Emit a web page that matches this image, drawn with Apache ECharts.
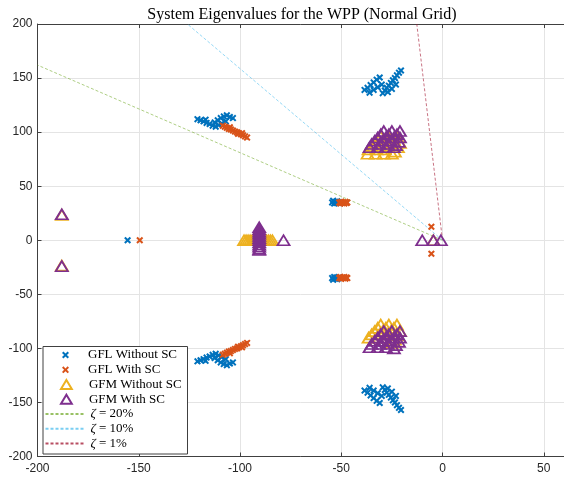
<!DOCTYPE html>
<html>
<head>
<meta charset="utf-8">
<script src="https://cdn.jsdelivr.net/npm/echarts@6/dist/echarts.min.js"></script>
<style>
  html, body { margin: 0; padding: 0; background: #fff; }
  #chart { width: 564px; height: 481px; }
</style>
</head>
<body>
<div id="chart"></div>
<script>
// Eigenvalue locations [real part, imaginary part]
const gflWithoutSc = [
  [-121, 112], [-119.5, 111], [-118, 110], [-116.5, 108.5], [-115, 107.5], [-113.5, 106], [-112, 105],
  [-110.5, 106.5], [-109, 108], [-111, 111], [-109.5, 113], [-108, 114.5], [-106.5, 115.5], [-105, 114],
  [-103.5, 113], [-107, 110], [-112.5, 109], [-117, 111.5],
  [-121, -112], [-119.5, -111], [-118, -110], [-116.5, -108.5], [-115, -107.5], [-113.5, -106], [-112, -105],
  [-110.5, -106.5], [-109, -108], [-111, -111], [-109.5, -113], [-108, -114.5], [-106.5, -115.5], [-105, -114],
  [-103.5, -113], [-107, -110], [-112.5, -109], [-117, -111.5],
  [-38.5, 139], [-37, 141], [-35.5, 143.5], [-34, 146], [-32.5, 148.5], [-31, 150.5], [-36, 136.5], [-34, 139],
  [-32, 141.5], [-30, 144], [-29.5, 136], [-28.5, 138.5], [-27.5, 141], [-26.5, 143], [-25.5, 145.5],
  [-24.5, 148], [-23.5, 150], [-22.5, 152.5], [-21.5, 155], [-20.5, 157], [-27, 137], [-25, 140], [-23, 144],
  [-38.5, -139], [-37, -141], [-35.5, -143.5], [-34, -146], [-32.5, -148.5], [-31, -150.5], [-36, -136.5], [-34, -139],
  [-32, -141.5], [-30, -144], [-29.5, -136], [-28.5, -138.5], [-27.5, -141], [-26.5, -143], [-25.5, -145.5],
  [-24.5, -148], [-23.5, -150], [-22.5, -152.5], [-21.5, -155], [-20.5, -157], [-27, -137], [-25, -140], [-23, -144],
  [-54.5, 35], [-54, 36.5], [-53.5, 34], [-53, 35.5], [-52.5, 34.5], [-52, 36], [-51.5, 35], [-51, 34.5],
  [-54.5, -35], [-54, -36.5], [-53.5, -34], [-53, -35.5], [-52.5, -34.5], [-52, -36], [-51.5, -35], [-51, -34.5],
  [-155.5, 0]
];

const gflWithSc = [
  [-108.5, 106], [-107.5, 105], [-106.5, 104], [-105.5, 103], [-104.5, 102.5], [-103.5, 101.5], [-102.5, 100.5],
  [-101.5, 100], [-100.5, 99], [-99.5, 98], [-98.5, 97], [-97.5, 96], [-96.5, 95], [-105, 104.5], [-101, 98.5], [-99, 99],
  [-108.5, -106], [-107.5, -105], [-106.5, -104], [-105.5, -103], [-104.5, -102.5], [-103.5, -101.5], [-102.5, -100.5],
  [-101.5, -100], [-100.5, -99], [-99.5, -98], [-98.5, -97], [-97.5, -96], [-96.5, -95], [-105, -104.5], [-101, -98.5], [-99, -99],
  [-51, 35], [-50.5, 34], [-50, 35.5], [-49.5, 34.5], [-49, 35], [-48.5, 34], [-48, 35.5], [-47.5, 34.5], [-47, 35],
  [-51, -35], [-50.5, -34], [-50, -35.5], [-49.5, -34.5], [-49, -35], [-48.5, -34], [-48, -35.5], [-47.5, -34.5], [-47, -35],
  [-5.5, 12.5], [-5.5, -12.5],
  [-149.5, 0]
];

const gfmWithoutSc = [
  [-188, 23.5], [-188, -23.5],
  [-98, 0], [-97, 0], [-96, 0], [-95, 0], [-94, 0], [-93, 0], [-92, 0], [-91, 0], [-90, 0],
  [-89, 0], [-88, 0], [-87, 0], [-86, 0], [-85, 0], [-84, 0],
  [-4.5, 0],
  [-30.5, 96], [-32, 93], [-33.5, 90], [-35, 87], [-36.5, 84], [-37, 80],
  [-26.5, 96], [-28, 93], [-29.5, 90], [-31, 87], [-32.5, 84], [-33, 80],
  [-22.5, 96], [-24, 93], [-25.5, 90], [-27, 87], [-28.5, 84], [-29, 80],
  [-21, 90], [-22, 86], [-23.5, 82], [-25, 80],
  [-30.5, -78], [-32, -81], [-33.5, -84], [-35, -87], [-36.5, -90],
  [-26.5, -78], [-28, -81], [-29.5, -84], [-31, -87], [-32.5, -90],
  [-22.5, -78], [-24, -81], [-25.5, -84], [-27, -87], [-28.5, -90],
  [-21, -84], [-22, -88], [-23.5, -92], [-25, -95]
];

const gfmWithSc = [
  [-188, 24], [-188, -24],
  [-90.5, 12], [-90.5, 10], [-90.5, 8], [-90.5, 6], [-90.5, 4], [-90.5, 2], [-90.5, 0],
  [-90.5, -2], [-90.5, -4], [-90.5, -6], [-90.5, -8], [-90.5, -9],
  [-78.5, 0],
  [-10, 0], [-4.5, 0], [-0.8, 0],
  [-29, 101], [-30.5, 98], [-32, 95], [-33.5, 92], [-35, 89], [-36, 86],
  [-25, 101], [-26.5, 98], [-28, 95], [-29.5, 92], [-31, 89], [-32, 86],
  [-21, 101], [-22.5, 98], [-24, 95], [-25.5, 92], [-27, 89], [-28, 86],
  [-21, 95], [-21.5, 91], [-23, 88], [-24, 86],
  [-29, -84], [-30.5, -87], [-32, -90], [-33.5, -93], [-35, -96], [-36, -99],
  [-25, -84], [-26.5, -87], [-28, -90], [-29.5, -93], [-31, -96], [-32, -99],
  [-21, -84], [-22.5, -87], [-24, -90], [-25.5, -93], [-27, -96], [-28, -99],
  [-21, -90], [-21.5, -94], [-23, -97], [-24, -100]
];

// Constant damping-ratio guide lines (from the origin outward)
const zeta20 = [[0, 0], [-200, 162]];
const zeta10 = [[0, 0], [-126, 200]];
const zeta1 = [[0, 0], [-12.7, 200]];

const xTicks = { min: -200, max: 60, step: 50 };
const yTicks = { min: -200, max: 200, step: 50 };

const titleText = 'System Eigenvalues for the WPP (Normal Grid)';

const COLORS = {
  blue: '#0072BD', orange: '#D95319', yellow: '#EDB120', purple: '#7E2F8E',
  green: '#77AC30', cyan: '#4DBEEE', red: '#A2142F'
};

// Marker shapes: a bold "x" and an open triangle
const crossPath = 'path://M0,2 L2,0 L5,3 L8,0 L10,2 L7,5 L10,8 L8,10 L5,7 L2,10 L0,8 L3,5 Z';
const triPath = 'path://M6,0 L12,10 L0,10 Z';

const AXIS_COLOR = '#404040';
const GRID_COLOR = '#e4e4e4';
const SERIF = '"Liberation Serif", "DejaVu Serif", serif';
const SANS = '"Liberation Sans", Arial, sans-serif';

const chart = echarts.init(document.getElementById('chart'), null, { renderer: 'canvas' });

function crossSeries(name, data, color) {
  return {
    name, type: 'scatter', data, symbol: crossPath, symbolSize: 7,
    itemStyle: { color, opacity: 1 }, silent: true, z: 3
  };
}
function triSeries(name, data, color) {
  return {
    name, type: 'scatter', data, symbol: triPath, symbolSize: [12, 10],
    itemStyle: { color: 'rgba(255,255,255,0)', borderColor: color, borderWidth: 1.8, opacity: 1 },
    silent: true, z: 4
  };
}
function zetaSeries(name, data, color) {
  return {
    name, type: 'line', data, symbol: 'none', silent: true, z: 2,
    lineStyle: { color, width: 0.8, opacity: 0.75, type: [3, 2] }
  };
}

function legendText(spacer) {
  return {
    fontFamily: SERIF, fontSize: 13, color: '#000', lineHeight: 14.8,
    rich: {
      s: { width: spacer, lineHeight: 14.8, fontSize: 13 },
      t: { fontFamily: SERIF, fontSize: 13, lineHeight: 14.8, color: '#000' },
      i: { fontFamily: SERIF, fontStyle: 'italic', fontSize: 13, lineHeight: 14.8, color: '#000' }
    }
  };
}
const legendBase = {
  orient: 'vertical', padding: 0, itemGap: 0,
  selectedMode: false, z: 6
};

chart.setOption({
  animation: false,
  title: {
    text: titleText, left: 297, top: 2, textAlign: 'center',
    textStyle: { fontFamily: SERIF, fontWeight: 'normal', fontSize: 16, color: '#000' }
  },
  grid: { left: 37.5, top: 24, width: 528.3, height: 432.5, containLabel: false },
  xAxis: [{
    type: 'value', min: xTicks.min, max: xTicks.max, interval: xTicks.step,
    axisLine: { onZero: false, lineStyle: { color: AXIS_COLOR, width: 1 } },
    axisTick: { inside: true, length: 4, lineStyle: { color: AXIS_COLOR } },
    axisLabel: { showMaxLabel: false, margin: 6, fontFamily: SANS, fontSize: 12, color: '#262626' },
    splitLine: { show: true, lineStyle: { color: GRID_COLOR, width: 1 } }
  }, {
    type: 'value', position: 'top', min: xTicks.min, max: xTicks.max, interval: xTicks.step,
    axisLine: { onZero: false, lineStyle: { color: AXIS_COLOR, width: 1 } },
    axisTick: { inside: true, length: 4, lineStyle: { color: AXIS_COLOR } },
    axisLabel: { show: false }, splitLine: { show: false }
  }],
  yAxis: {
    type: 'value', min: yTicks.min, max: yTicks.max, interval: yTicks.step,
    axisLine: { show: true, onZero: false, lineStyle: { color: AXIS_COLOR, width: 1 } },
    axisTick: { show: true, inside: true, length: 4, lineStyle: { color: AXIS_COLOR } },
    axisLabel: { margin: 5, fontFamily: SANS, fontSize: 12, color: '#262626' },
    splitLine: { show: true, lineStyle: { color: GRID_COLOR, width: 1 } }
  },
  legend: [
    Object.assign({}, legendBase, {
      left: 62, top: 347.6, itemWidth: 7, itemHeight: 7,
      textStyle: legendText(14),
      formatter: function (n) { return '{s| }{t|' + n + '}'; },
      data: ['GFL Without SC', 'GFL With SC']
    }),
    Object.assign({}, legendBase, {
      left: 60, top: 377, itemWidth: 11, itemHeight: 9,
      textStyle: legendText(12),
      formatter: function (n) { return '{s| }{t|' + n + '}'; },
      data: ['GFM Without SC', 'GFM With SC']
    }),
    Object.assign({}, legendBase, {
      left: 44.5, top: 406.6, itemWidth: 40, itemHeight: 10,
      textStyle: legendText(0),
      itemStyle: { color: 'rgba(0,0,0,0)', borderColor: 'rgba(0,0,0,0)', borderWidth: 0, opacity: 0 },
      data: ['zeta20', 'zeta10', 'zeta1'],
      formatter: function (n) {
        return { zeta20: '{i|ζ}{t| = 20%}', zeta10: '{i|ζ}{t| = 10%}', zeta1: '{i|ζ}{t| = 1%}' }[n];
      }
    })
  ],
  graphic: [{
    type: 'rect', left: 42.5, top: 346, z: 5, silent: true,
    shape: { width: 144.5, height: 107.5 },
    style: { fill: '#fff', stroke: AXIS_COLOR, lineWidth: 1 }
  }],
  series: [
    zetaSeries('zeta20', zeta20, COLORS.green),
    zetaSeries('zeta10', zeta10, COLORS.cyan),
    zetaSeries('zeta1', zeta1, COLORS.red),
    crossSeries('GFL Without SC', gflWithoutSc, COLORS.blue),
    crossSeries('GFL With SC', gflWithSc, COLORS.orange),
    triSeries('GFM Without SC', gfmWithoutSc, COLORS.yellow),
    triSeries('GFM With SC', gfmWithSc, COLORS.purple)
  ]
});
</script>
</body>
</html>
